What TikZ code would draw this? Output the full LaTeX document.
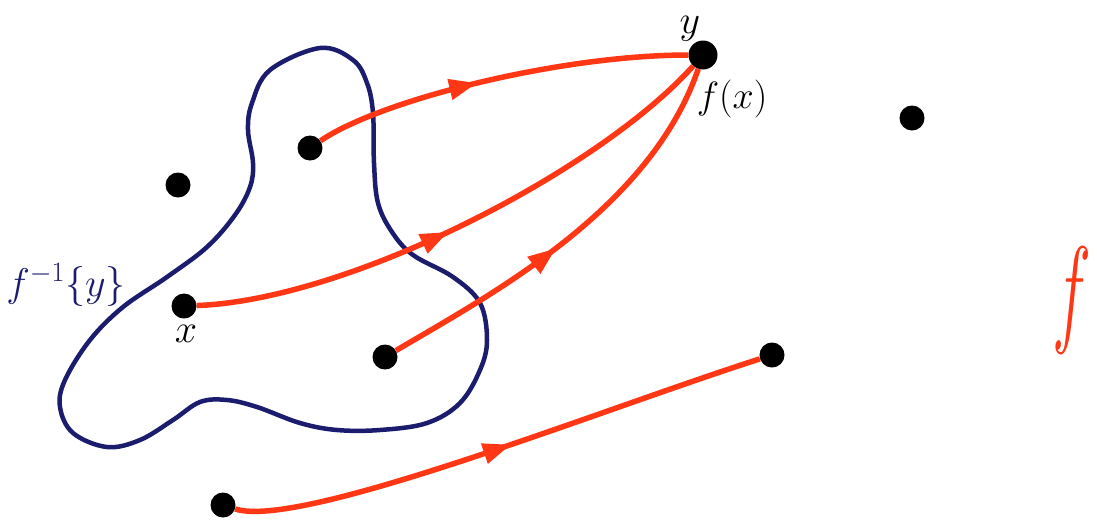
\RequirePackage{fix-cm}
\documentclass[tikz,border=0pt]{standalone}
\usetikzlibrary{arrows.meta,decorations.markings}
\definecolor{myred}{RGB}{255,55,20}
\definecolor{navy}{RGB}{28,28,110}
\begin{document}
\begin{tikzpicture}[x=1pt,y=-1pt,
  dot/.style={circle,fill=black,inner sep=0pt,minimum size=25pt},
  bigdot/.style={dot,minimum size=29pt},
  map/.style={draw=myred,line width=5.5pt,postaction={decorate},
    decoration={markings,mark=at position #1 with {\arrow[myred]{Triangle[length=28pt,width=20pt]}}}},
  blob/.style={draw=navy,line width=4.5pt},
  lab/.style={inner sep=0pt,font=\fontsize{#1}{#1}\selectfont}]
\useasboundingbox (0,0) rectangle (1097,523);
\fill[white] (0,0) rectangle (1097,523);
% preimage region
\draw[blob] plot[smooth cycle,tension=0.6] coordinates {
 (320,48) (353,60) (367,83) (373,113) (374,163) (378,203) (392,232) (413,255)
 (453,277) (480,303) (487,340) (480,370) (460,403) (427,423) (380,430) (337,430)
 (300,423) (257,407) (227,400) (200,402) (173,420) (140,440) (107,447) (73,433)
 (60,407) (65,380) (90,340) (123,307) (167,277) (207,247) (235,215) (250,187)
 (253,163) (248,130) (252,103) (270,70)};
% points
\node[dot] (p1) at (310,148) {};
\node[dot] (p2) at (178,185) {};
\node[dot] (px) at (184,306) {};
\node[dot] (p4) at (385,357) {};
\node[bigdot] (py) at (703,55) {};
\node[dot] (p6) at (912,118) {};
\node[dot] (p7) at (772,355) {};
\node[dot] (p8) at (223,505) {};
% maps
\draw[map=0.44] (p1) .. controls (380,100) and (560,55) .. (py);
\draw[map=0.47] (px) .. controls (350,300) and (600,170) .. (py);
\draw[map=0.45] (p4) .. controls (490,295) and (650,210) .. (py);
\draw[map=0.52] (p8) .. controls (300,530) and (600,410) .. (p7);
% labels
\node[lab=40] (ylab) at (690,29) {$y$};
\node[lab=38] (fxlab) at (732,99) {$f(x)$};
\node[lab=40] (xlab) at (186,334) {$x$};
\node[lab=40,text=navy] (pre) at (66,285) {$f^{-1}\{y\}$};
\node[lab=120,text=myred,xscale=0.55] (flab) at (1072,300) {$f$};
\end{tikzpicture}
\end{document}
